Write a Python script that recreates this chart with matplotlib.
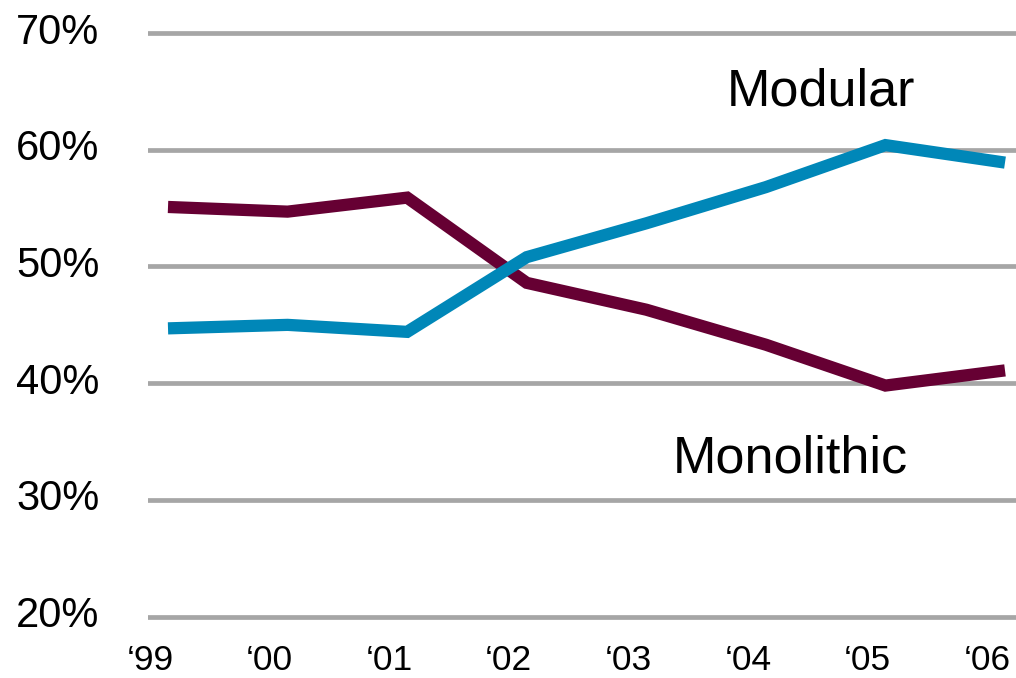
import matplotlib
matplotlib.use("Agg")
import matplotlib.pyplot as plt
from matplotlib.transforms import ScaledTranslation

plt.rcParams['font.family'] = ['Liberation Sans', 'DejaVu Sans']

years = ['\u201899', '\u201800', '\u201801', '\u201802', '\u201803', '\u201804', '\u201805', '\u201806']
modular = [44.7, 45.0, 44.4, 50.8, 53.7, 56.8, 60.4, 58.9]
monolithic = [55.1, 54.7, 55.9, 48.6, 46.3, 43.3, 39.8, 41.1]
y_ticks = [20, 30, 40, 50, 60, 70]
y_tick_labels = ['20%', '30%', '40%', '50%', '60%', '70%']

fig = plt.figure(figsize=(10.16, 6.78), dpi=100)
ax = fig.add_axes([0.1457, 0.0646, 0.8543, 0.9125])

x = list(range(len(years)))
ax.plot(x, monolithic, color='#660033', lw=8.8, solid_capstyle='butt', solid_joinstyle='miter', zorder=3)
ax.plot(x, modular, color='#0087B8', lw=8.8, solid_capstyle='butt', solid_joinstyle='miter', zorder=3)

ax.set_xlim(-0.167, 7.092)
ax.set_ylim(18.5, 71.5)

ax.set_yticks(y_ticks)
ax.set_yticklabels(y_tick_labels, fontsize=30)
ax.set_xticks(x)
ax.set_xticklabels(years, fontsize=25.5)
ax.tick_params(axis='y', length=0, pad=35)
ax.tick_params(axis='x', length=0, pad=7)

for lab in ax.get_xticklabels():
    lab.set_transform(lab.get_transform() + ScaledTranslation(-0.18, 0, fig.dpi_scale_trans))
for lab in ax.get_yticklabels():
    lab.set_transform(lab.get_transform() + ScaledTranslation(0, 0.05, fig.dpi_scale_trans))

ax.yaxis.grid(True, color='#A6A6A6', lw=3.4)
ax.xaxis.grid(False)
ax.set_axisbelow(True)
for s in ax.spines.values():
    s.set_visible(False)

ax.text(5.461, 63.83, 'Modular', fontsize=37.5, ha='center', va='baseline')
ax.text(5.202, 32.31, 'Monolithic', fontsize=37.5, ha='center', va='baseline')

fig.savefig('out.png', dpi=100)
